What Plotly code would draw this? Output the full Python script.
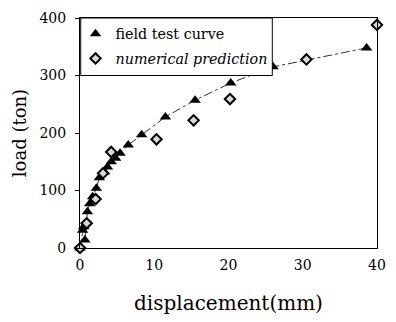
import plotly.graph_objects as go

# field test curve (displacement mm, load ton)
field_x = [0, 0.35, 0.5, 0.66, 1.0, 1.3, 1.7, 2.2, 2.6, 3.3, 3.7, 4.2, 4.8, 5.4, 6.5, 8.3, 11.5, 15.5, 20.3, 26.0, 38.6]
field_y = [0, 31, 37, 14, 63, 77, 89, 104, 122, 132, 141, 150, 156, 165, 179, 197, 228, 257, 287, 315, 348]

# numerical prediction
num_x = [0, 0.9, 2.1, 3.1, 4.2, 10.3, 15.3, 20.2, 30.5, 40.0]
num_y = [0, 43, 85, 130, 167, 189, 222, 259, 328, 388]

x_ticks = [0, 10, 20, 30, 40]
y_ticks = [0, 100, 200, 300, 400]

line_pts = sorted(zip(field_x, field_y))
lx = [p[0] for p in line_pts]
ly = [p[1] for p in line_pts]

serif = "DejaVu Serif"

fig = go.Figure()
fig.add_trace(go.Scatter(x=lx, y=ly, mode="lines", showlegend=False,
                         line=dict(color="#333333", width=1, dash="dashdot"),
                         hoverinfo="skip"))
fig.add_trace(go.Scatter(x=field_x, y=field_y, mode="markers", name="field test curve",
                         legendgroup="a",
                         marker=dict(symbol="triangle-up", size=10, color="black"),
                         cliponaxis=False))
fig.add_trace(go.Scatter(x=num_x, y=num_y, mode="markers", name="<i>numerical prediction</i>",
                         legendgroup="b",
                         marker=dict(symbol="diamond", size=8, color="#d8d8d8",
                                     line=dict(color="black", width=2)),
                         cliponaxis=False))

# legend frame (white box covering the plot behind it)
fig.add_shape(type="rect", xref="x", yref="y", x0=0.1, x1=25.9, y0=300, y1=400,
              fillcolor="white", line=dict(color="black", width=1), layer="above")

fig.update_layout(
    width=396, height=322,
    margin=dict(l=80, r=10, t=18, b=74),
    paper_bgcolor="white", plot_bgcolor="white",
    font=dict(family=serif, color="black", size=14),
    legend=dict(x=-0.015, y=1.0, xanchor="left", yanchor="top",
                bgcolor="rgba(0,0,0,0)", borderwidth=0,
                traceorder="grouped", tracegroupgap=3,
                font=dict(family=serif, size=14.3, color="black"),
                itemwidth=30),
    xaxis=dict(range=[0, 40], tickvals=x_ticks, ticktext=[str(v) for v in x_ticks],
               showgrid=False, zeroline=False, showline=True, linecolor="black",
               linewidth=1, mirror=True, ticks="", ticklabelstandoff=4,
               tickfont=dict(family=serif, size=14),
               title=dict(text="displacement(mm)", font=dict(family=serif, size=20),
                          standoff=24)),
    yaxis=dict(range=[0, 400], tickvals=y_ticks, ticktext=[str(v) for v in y_ticks],
               showgrid=False, zeroline=False, showline=True, linecolor="black",
               linewidth=1, mirror=True, ticks="outside", ticklen=4, tickcolor="black",
               ticklabelstandoff=6,
               tickfont=dict(family=serif, size=14),
               title=dict(text="load (ton)", font=dict(family=serif, size=18),
                          standoff=8)),
)

fig.write_html("out.html")
